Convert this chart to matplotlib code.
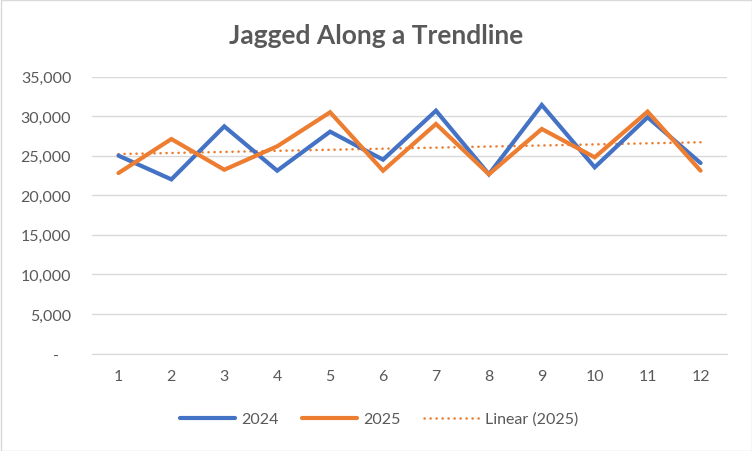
import numpy as np
import matplotlib
matplotlib.use("Agg")
import matplotlib.pyplot as plt
from matplotlib.ticker import FuncFormatter
from matplotlib.patches import Rectangle

months = list(range(1, 13))
s2024 = [25000, 22000, 28700, 23100, 28030, 24490, 30680, 22650, 31400, 23530, 29850, 24070]
s2025 = [22800, 27100, 23220, 26180, 30480, 23100, 29000, 22650, 28370, 24790, 30560, 23100]
yticks = [0, 5000, 10000, 15000, 20000, 25000, 30000, 35000]

plt.rcParams['font.family'] = ['Lato', 'DejaVu Sans']

fig = plt.figure(figsize=(7.52, 4.52), dpi=100)
fig.patches.append(Rectangle((0.5/752, 0.5/452), 1 - 1/752, 1 - 1/452, transform=fig.transFigure,
                             fill=False, edgecolor='#D9D9D9', linewidth=1))
ax = fig.add_axes([92/752, (452-354.5)/452, (727-92)/752, 277/452])

c24 = '#4472C4'
c25 = '#ED7D31'
x = np.array(months)
ax.plot(x, s2024, color=c24, lw=3.0, label='2024', solid_joinstyle='miter', solid_capstyle='round', zorder=3)
ax.plot(x, s2025, color=c25, lw=3.0, label='2025', solid_joinstyle='miter', solid_capstyle='round', zorder=3)
coef = np.polyfit(x, s2025, 1)
ax.plot(x, np.polyval(coef, x), color=c25, lw=1.8, ls=(0, (0.1, 2.3)), dash_capstyle='round',
        label='Linear (2025)', zorder=2)

ax.set_xlim(0.5, 12.5)
ax.set_ylim(0, 35000)
ax.set_yticks(yticks)
ax.set_xticks(months)
ax.yaxis.set_major_formatter(FuncFormatter(lambda v, p: '-   ' if v == 0 else f'{int(v):,}'))
ax.grid(axis='y', color='#D9D9D9', lw=1)
ax.set_axisbelow(True)
for s in ['top', 'right', 'left']:
    ax.spines[s].set_visible(False)
ax.spines['bottom'].set_color('#D9D9D9')
ax.tick_params(axis='both', length=0, labelsize=11.5, colors='#595959')
ax.tick_params(axis='y', pad=15)
ax.tick_params(axis='x', pad=11)

fig.text(376/752, 1 - 43.5/452, 'Jagged Along a Trendline', ha='center', va='baseline',
         fontsize=19, fontweight='bold', color='#595959')

leg = fig.legend(loc='center', bbox_to_anchor=(379/752, 1 - 420/452), ncol=3, frameon=False,
                 fontsize=11.5, handlelength=3.45, columnspacing=1.45, handletextpad=0.4)
for t in leg.get_texts():
    t.set_color('#595959')

fig.savefig('out.png', dpi=100)
